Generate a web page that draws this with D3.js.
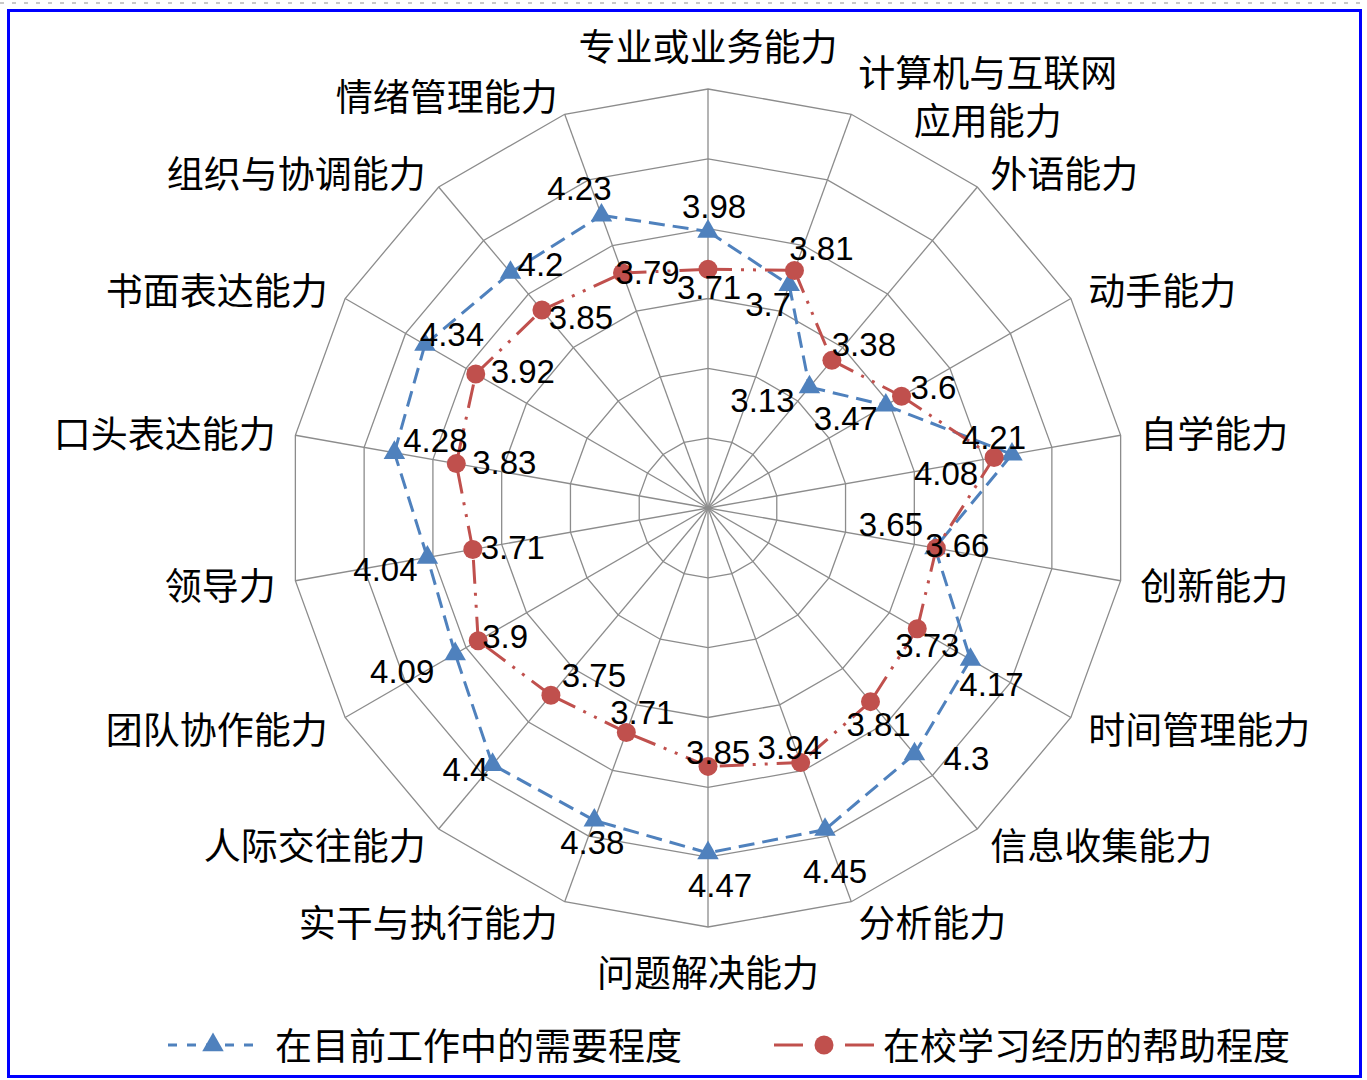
<!DOCTYPE html>
<html>
<head>
<meta charset="utf-8">
<script src="https://cdnjs.cloudflare.com/ajax/libs/d3/7.8.5/d3.min.js"></script>
<style>
  body { margin: 0; background: #fff; }
  svg text { font-family: "Noto Sans CJK SC", "Noto Sans", sans-serif; fill: #000; }
  svg text.val { font-family: "Liberation Sans", Arial, sans-serif; font-size: 33px; }
</style>
</head>
<body>
<svg id="chart" width="1367" height="1080"></svg>
<script>
// categories, clockwise from the top
const categories = [
    '专业或业务能力', '计算机与互联网\n应用能力', '外语能力', '动手能力', '自学能力',
    '创新能力', '时间管理能力', '信息收集能力', '分析能力', '问题解决能力',
    '实干与执行能力', '人际交往能力', '团队协作能力', '领导力', '口头表达能力',
    '书面表达能力', '组织与协调能力', '情绪管理能力'
];
const needValues = [3.98, 3.7, 3.13, 3.47, 4.21, 3.65, 4.17, 4.3, 4.45, 4.47,
    4.38, 4.4, 4.09, 4.04, 4.28, 4.34, 4.2, 4.23];
const helpValues = [3.71, 3.81, 3.38, 3.6, 4.08, 3.66, 3.73, 3.81, 3.94, 3.85,
    3.71, 3.75, 3.9, 3.71, 3.83, 3.92, 3.85, 3.79];
const seriesNames = ['在目前工作中的需要程度', '在校学习经历的帮助程度'];
const ringTicks = [2, 2.5, 3, 3.5, 4, 4.5, 5];

// where each data label sits relative to its point (px)
const needLabelShift = [[6, -25], [-21, 20], [-47, 13], [-40, 13], [-18, -17], [-44, -24],
    [21, 25], [52, 4], [10, 42], [12, 33], [-2, 22], [-27, 5], [-53, 18], [-42, 12],
    [41, -12], [27, -10], [30, -8], [-22, -27]];
const helpLabelShift = [[1, 18], [27, -22], [32, -16], [32, -9], [-48, 16], [21, -3],
    [10, 17], [8, 23], [-11, -15], [10, -14], [16, -20], [43, -20], [27, -4], [40, -2],
    [48, -1], [47, -2], [39, 7], [25, -1]];

const blue = '#4F81BD', red = '#C0504D', gridColor = '#8c8c8c';
const cx = 708, cy = 508, R = 419;
const n = categories.length;

const svg = d3.select('#chart');

// frame
svg.append('line').attr('x1', 0).attr('x2', 1367).attr('y1', 3).attr('y2', 3)
    .attr('stroke', '#c8c8c8').attr('stroke-width', 2).attr('stroke-dasharray', '4 8');
svg.append('rect')
    .attr('x', 8.5).attr('y', 10.5).attr('width', 1352).attr('height', 1066)
    .attr('fill', 'none').attr('stroke', '#0000ff').attr('stroke-width', 3);

// scales
const angle = d3.scaleLinear().domain([0, n]).range([0, 2 * Math.PI]);
const radius = d3.scaleLinear().domain([2, 5]).range([0, R]);

function pos(i, r) {
    const p = d3.pointRadial(angle(i), r);
    return [cx + p[0], cy + p[1]];
}

// grid
const grid = svg.append('g').attr('class', 'grid')
    .attr('fill', 'none').attr('stroke', gridColor).attr('stroke-width', 1.3);
const ring = d3.line().curve(d3.curveLinearClosed);
ringTicks.filter(t => t > 2).forEach(t => {
    grid.append('path').attr('d', ring(d3.range(n).map(i => pos(i, radius(t)))));
});
d3.range(n).forEach(i => {
    const p = pos(i, R);
    grid.append('line').attr('x1', cx).attr('y1', cy).attr('x2', p[0]).attr('y2', p[1]);
});

// category labels
const catG = svg.append('g').attr('class', 'categories').style('font-size', '37px');
categories.forEach((c, i) => {
    const a = angle(i);
    const s = Math.sin(a), co = Math.cos(a);
    const p = pos(i, R + 20);
    const lines = c.split('\n');
    const lh = 48;
    const t = catG.append('text').attr('text-anchor', 'middle');
    lines.forEach((l, k) => {
        t.append('tspan').attr('x', 0).attr('dy', k === 0 ? 0 : lh)
            .attr('dominant-baseline', 'central').text(l);
    });
    const w = t.node().getBBox().width;
    const h = lines.length * lh;
    let x = p[0], y = p[1];
    if (s > 0.05) x += w / 2;
    else if (s < -0.05) x -= w / 2;
    else y -= co * h / 2;
    y -= (lines.length - 1) * lh / 2;
    t.attr('transform', `translate(${x},${y})`);
});

// series
function drawSeries(values, color, dash, marker, shifts) {
    const g = svg.append('g');
    const pts = values.map((v, i) => pos(i, radius(v)));
    pts.forEach((p, i) => {
        const q = pts[(i + 1) % n];
        g.append('line')
            .attr('x1', p[0]).attr('y1', p[1]).attr('x2', q[0]).attr('y2', q[1])
            .attr('stroke', color).attr('stroke-width', 3)
            .attr('stroke-dasharray', dash);
    });
    pts.forEach(p => {
        if (marker === 'triangle') {
            g.append('path')
                .attr('d', d3.symbol(d3.symbolTriangle, 200)())
                .attr('transform', `translate(${p[0]},${p[1]})`)
                .attr('fill', color);
        } else {
            g.append('circle').attr('cx', p[0]).attr('cy', p[1]).attr('r', 9.5)
                .attr('fill', color);
        }
    });
    return pts;
}

const needPts = drawSeries(needValues, blue, '16 8', 'triangle', needLabelShift);
const helpPts = drawSeries(helpValues, red, '24 9 3 9 3 9', 'circle', helpLabelShift);

// data labels
const labG = svg.append('g').attr('class', 'labels');
function drawLabels(values, pts, shifts) {
    values.forEach((v, i) => {
        labG.append('text').attr('class', 'val')
            .attr('x', pts[i][0] + shifts[i][0])
            .attr('y', pts[i][1] + shifts[i][1])
            .attr('text-anchor', 'middle')
            .attr('dominant-baseline', 'central')
            .text(v);
    });
}
drawLabels(needValues, needPts, needLabelShift);
drawLabels(helpValues, helpPts, helpLabelShift);

// legend
const leg = svg.append('g').attr('class', 'legend');
const ly = 1045;
leg.append('line').attr('x1', 168).attr('x2', 262).attr('y1', ly).attr('y2', ly)
    .attr('stroke', blue).attr('stroke-width', 3).attr('stroke-dasharray', '9 10');
leg.append('path').attr('d', d3.symbol(d3.symbolTriangle, 200)())
    .attr('transform', `translate(213,${ly})`).attr('fill', blue);
leg.append('text').attr('x', 275).attr('y', ly - 1).attr('dominant-baseline', 'central')
    .style('font-size', '37px').text(seriesNames[0]);

leg.append('line').attr('x1', 774).attr('x2', 803).attr('y1', ly).attr('y2', ly)
    .attr('stroke', red).attr('stroke-width', 3);
leg.append('line').attr('x1', 845).attr('x2', 874).attr('y1', ly).attr('y2', ly)
    .attr('stroke', red).attr('stroke-width', 3);
leg.append('circle').attr('cx', 824).attr('cy', ly).attr('r', 9.5).attr('fill', red);
leg.append('text').attr('x', 883).attr('y', ly - 1).attr('dominant-baseline', 'central')
    .style('font-size', '37px').text(seriesNames[1]);
</script>
</body>
</html>
